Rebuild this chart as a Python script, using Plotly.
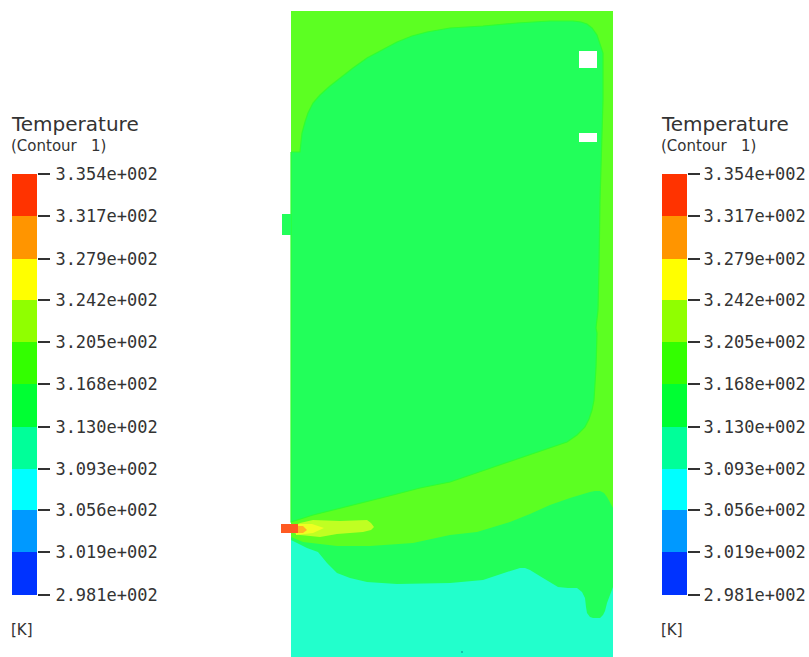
import plotly.graph_objects as go

W, H = 809, 657

# ---- legend data -------------------------------------------------------
level_values = [298.1, 301.9, 305.6, 309.3, 313.0, 316.8, 320.5, 324.2, 327.9, 331.7, 335.4]
level_labels = ["2.981e+002", "3.019e+002", "3.056e+002", "3.093e+002", "3.130e+002", "3.168e+002",
                "3.205e+002", "3.242e+002", "3.279e+002", "3.317e+002", "3.354e+002"]
band_colors = ["#0033FF", "#0099FF", "#00FFFF", "#00FF99", "#00FF33",
               "#33FF00", "#90FF00", "#FFFF00", "#FF9500", "#FF3300"]

# ---- contour regions (image-plane position) ----------------------------
domain_x = [291, 613, 613, 291]
domain_y = [11, 11, 657, 657]

above_313_x = [291, 613, 613, 610, 607, 605, 603, 600, 597, 593, 590, 587, 586, 585, 582, 577, 568, 558, 543, 530, 525, 520, 507, 483, 450, 397, 367, 350, 337, 327, 318, 307, 291]
above_313_y = [11, 11, 587, 595, 603, 611, 615, 618, 618, 618, 617, 613, 607, 598, 592, 588, 588, 587, 578, 570, 568, 568, 572, 580, 583, 584, 582, 578, 573, 563, 552, 548, 540]

above_317_x = [291, 613, 613, 610, 607, 604, 600, 595, 590, 570, 550, 530, 510, 477, 450, 413, 370, 337, 303, 291]
above_317_y = [11, 11, 508, 502, 497, 493, 491, 491, 492, 498, 505, 514, 522, 532, 535, 543, 546, 546, 542, 537]

core_x = [291, 300, 301, 302, 305, 308, 313, 320, 330, 340, 353, 367, 382, 397, 412, 427, 450, 483, 517, 550, 573, 581, 587, 592, 597, 600, 603, 603, 602, 600, 599, 598, 596, 597, 596, 595, 594, 592, 589, 585, 577, 567, 543, 530, 485, 450, 420, 393, 360, 313, 291]
core_y = [152, 152, 142, 133, 122, 113, 103, 95, 86, 78, 68, 58, 50, 42, 36, 32, 28, 26, 23, 21, 21, 22, 24, 28, 35, 43, 53, 100, 133, 200, 267, 310, 328, 333, 367, 390, 400, 410, 419, 427, 435, 442, 450, 455, 470, 482, 488, 495, 503, 515, 522]

inlet_tab_x = [282, 291, 291, 282]
inlet_tab_y = [214, 214, 235, 235]

plume_320_x = [291, 300, 313, 340, 367, 371, 374, 371, 363, 337, 320, 300, 291]
plume_320_y = [527, 523, 520, 521, 520, 523, 527, 530, 532, 534, 537, 535, 532]

plume_324_x = [296, 312, 324, 313, 296]
plume_324_y = [524, 524, 528, 533, 535]

plume_328_x = [295, 303, 307, 303, 295]
plume_328_y = [526, 526, 530, 533, 533]

jet_x = [281, 298, 298, 281]
jet_y = [524, 524, 533, 533]

hole_upper_x = [579, 597, 597, 579]
hole_upper_y = [51, 51, 68, 68]
hole_lower_x = [579, 597, 597, 579]
hole_lower_y = [133, 133, 142, 142]

marker_dot_x = [462]
marker_dot_y = [652]

fig = go.Figure()

def region(xs, ys, color, edge=None):
    fig.add_trace(go.Scatter(x=xs + xs[:1], y=ys + ys[:1], mode="lines", fill="toself",
                             fillcolor=color, hoverinfo="skip", showlegend=False,
                             line=dict(color=edge or color, width=1.2 if edge else 0)))

TEAL, GREEN, LIME = "#22FFCC", "#22FF5A", "#5CFF22"
region(domain_x, domain_y, TEAL)
region(above_313_x, above_313_y, GREEN)
region(above_317_x, above_317_y, LIME)
region(core_x, core_y, GREEN, "#30FF30")
region(inlet_tab_x, inlet_tab_y, GREEN)
region(plume_320_x, plume_320_y, "#C0FF22")
region(plume_324_x, plume_324_y, "#EEFF22")
region(plume_328_x, plume_328_y, "#FFB422")
region(jet_x, jet_y, "#FF5A22")
region(hole_upper_x, hole_upper_y, "#FFFFFF")
region(hole_lower_x, hole_lower_y, "#FFFFFF")
fig.add_trace(go.Scatter(x=marker_dot_x, y=marker_dot_y, mode="markers", showlegend=False, hoverinfo="skip",
                         marker=dict(size=2, color="#12B0A0")))

# ---- two identical legend bars ------------------------------------------
lowers = level_values[:-1]
widths = [b - a for a, b in zip(level_values[:-1], level_values[1:])]
for xa, ya in (("x2", "y2"), ("x3", "y3")):
    fig.add_trace(go.Bar(x=[0] * len(widths), y=widths, base=lowers, width=1, marker=dict(color=band_colors, line_width=0),
                         xaxis=xa, yaxis=ya, showlegend=False, hoverinfo="skip"))

def bar_axis(side_domain, anchor):
    return dict(domain=side_domain, range=[-0.5, 0.5], visible=False, fixedrange=True, anchor=anchor, automargin=False)

def temp_axis(anchor, standoff):
    return dict(domain=[(H - 595) / H, (H - 174) / H], range=[level_values[0], level_values[-1]], anchor=anchor,
                side="right", tickmode="array", tickvals=level_values, ticktext=level_labels, automargin=False,
                ticks="outside", ticklen=12, tickwidth=1.5, tickcolor="#333333", showgrid=False, zeroline=False,
                showline=False, ticklabelstandoff=standoff,
                tickfont=dict(family="DejaVu Sans Mono", size=17, color="#333333"))

fig.update_layout(
    template="none",
    width=W, height=H, margin=dict(l=0, r=0, t=0, b=0, pad=0), autosize=False,
    paper_bgcolor="white", plot_bgcolor="rgba(0,0,0,0)", barmode="overlay", bargap=0,
    xaxis=dict(domain=[0, 1], range=[0, W], visible=False, fixedrange=True, automargin=False),
    yaxis=dict(domain=[0, 1], range=[H, 0], visible=False, fixedrange=True, automargin=False),
    xaxis2=bar_axis([12 / W, 37 / W], "y2"), yaxis2=temp_axis("x2", 2),
    xaxis3=bar_axis([662 / W, 687 / W], "y3"), yaxis3=temp_axis("x3", 0),
)

for x0 in (12, 662):
    for text, y, size in (("Temperature", 124, 20), ("(Contour\u00a0\u00a0\u00a01)", 146, 15), ("[K]", 630, 15)):
        fig.add_annotation(x=x0, y=y, xref="x", yref="y", text=text, showarrow=False, xanchor="left", yanchor="middle",
                           xshift=-3, font=dict(family="DejaVu Sans", size=size, color="#333333"))

fig.write_html("out.html", config=dict(displayModeBar=False),
               post_script="document.body.style.margin='0';document.body.style.overflow='hidden';")
